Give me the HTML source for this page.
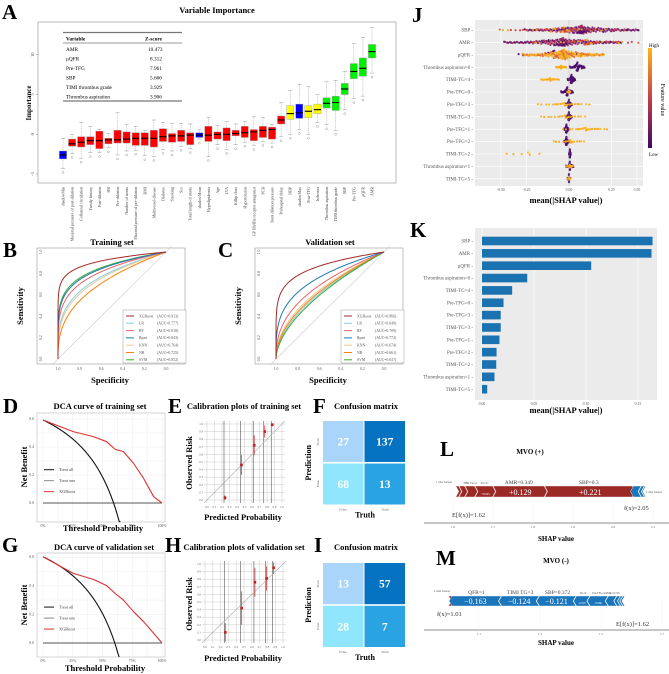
<!DOCTYPE html>
<html><head><meta charset="utf-8"><style>
html,body{margin:0;padding:0;background:#fff;}
svg{display:block;font-family:"Liberation Serif",serif;}
.lt{font-weight:bold;font-size:21px;}
.tt{font-weight:bold;font-size:8.5px;}
.tk{font-size:3.8px;fill:#555;}
</style></head><body>
<svg id="fig" xmlns="http://www.w3.org/2000/svg" width="669" height="674" viewBox="0 0 669 674">
<rect width="669" height="674" fill="#fff"/>
<!-- Panel letters -->
<text x="2" y="19" class="lt">A</text>
<text x="3" y="257" class="lt">B</text>
<text x="218" y="257" class="lt">C</text>
<text x="3" y="413" class="lt">D</text>
<text x="168" y="413" class="lt">E</text>
<text x="313" y="413" class="lt">F</text>
<text x="2" y="552" class="lt">G</text>
<text x="165" y="552" class="lt">H</text>
<text x="314" y="552" class="lt">I</text>
<text x="412" y="22" class="lt">J</text>
<text x="410" y="237" class="lt">K</text>
<text x="440" y="456" class="lt">L</text>
<text x="436" y="565" class="lt">M</text>

<!-- Panel A static -->
<text x="217" y="13" text-anchor="middle" class="tt">Variable Importance</text>
<rect x="38" y="22" width="358" height="161" fill="none" stroke="#aaa" stroke-width="0.8"/>
<text x="0" y="0" transform="translate(31,103) rotate(-90)" text-anchor="middle" font-weight="bold" font-size="7">Importance</text>
<g id="aTable" font-size="5.3">
<line x1="63" y1="32.5" x2="182" y2="32.5" stroke="#777" stroke-width="1.2"/>
<line x1="63" y1="43" x2="182" y2="43" stroke="#333" stroke-width="0.6"/>
<line x1="63" y1="101" x2="182" y2="101" stroke="#777" stroke-width="1.2"/>
<text x="66" y="40.5" font-weight="bold">Variable</text><text x="145" y="40.5" font-weight="bold">Z-score</text>
<text x="66" y="51">AMR</text><text x="148" y="51">10.473</text>
<text x="66" y="60.5">μQFR</text><text x="150" y="60.5">8.312</text>
<text x="66" y="70">Pre-TFG</text><text x="150" y="70">7.961</text>
<text x="66" y="79.5">SBP</text><text x="150" y="79.5">5.666</text>
<text x="66" y="89">TIMI thrombus grade</text><text x="150" y="89">3.929</text>
<text x="66" y="98.5">Thrombus aspiration</text><text x="150" y="98.5">3.906</text>
</g>

<!-- B/C static -->
<text x="112" y="245" text-anchor="middle" class="tt">Training set</text>
<text x="330" y="245" text-anchor="middle" class="tt">Validation set</text>
<rect x="37" y="248" width="148" height="116" fill="none" stroke="#999" stroke-width="0.6"/>
<rect x="255" y="248" width="148" height="116" fill="none" stroke="#999" stroke-width="0.6"/>
<text x="110" y="383" text-anchor="middle" class="tt">Specificity</text>
<text x="328" y="383" text-anchor="middle" class="tt">Specificity</text>
<text transform="translate(23,306) rotate(-90)" text-anchor="middle" class="tt">Sensitivity</text>
<text transform="translate(241,306) rotate(-90)" text-anchor="middle" class="tt">Sensitivity</text>

<!-- D/G static -->
<text x="100" y="409" text-anchor="middle" class="tt">DCA curve of training set</text>
<text x="104" y="550" text-anchor="middle" class="tt">DCA curve of validation set</text>
<text x="103" y="531" text-anchor="middle" class="tt">Threshold Probability</text>
<text x="105" y="671" text-anchor="middle" class="tt">Threshold Probability</text>
<text transform="translate(27,467) rotate(-90)" text-anchor="middle" class="tt">Net Benefit</text>
<text transform="translate(27,605) rotate(-90)" text-anchor="middle" class="tt">Net Benefit</text>

<!-- E/H static -->
<text x="244" y="409" text-anchor="middle" class="tt">Calibration plots of training set</text>
<text x="244" y="550" text-anchor="middle" class="tt">Calibration plots of validation set</text>
<text x="243" y="520" text-anchor="middle" class="tt">Predicted Probability</text>
<text x="243" y="661" text-anchor="middle" class="tt">Predicted Probability</text>
<text transform="translate(192,463) rotate(-90)" text-anchor="middle" class="tt">Observed Risk</text>
<text transform="translate(192,604) rotate(-90)" text-anchor="middle" class="tt">Observed Risk</text>

<!-- F/I static -->
<text x="366" y="409" text-anchor="middle" class="tt">Confusion matrix</text>
<text x="366" y="550" text-anchor="middle" class="tt">Confusion matrix</text>

<!-- J static -->
<rect x="475" y="20" width="168" height="166" fill="#ebebeb"/>
<text x="566" y="203" text-anchor="middle" class="tt">mean(|SHAP value|)</text>
<defs><linearGradient id="cb" x1="0" y1="0" x2="0" y2="1"><stop offset="0" stop-color="#fcb519"/><stop offset="0.5" stop-color="#c73e4c"/><stop offset="1" stop-color="#3d0965"/></linearGradient></defs>
<rect x="648" y="48" width="4" height="100" fill="url(#cb)"/>
<text x="649" y="47" font-size="5">High</text>
<text x="649" y="156" font-size="5">Low</text>
<text transform="translate(661,100) rotate(90)" text-anchor="middle" font-size="6">Feature value</text>

<!-- K static -->
<rect x="475" y="228" width="182" height="172" fill="#ebebeb"/>
<text x="566" y="413" text-anchor="middle" class="tt">mean(|SHAP value|)</text>

<!-- L/M static -->
<text x="530" y="454" text-anchor="middle" font-weight="bold" font-size="7">MVO (+)</text>
<text x="556" y="563" text-anchor="middle" font-weight="bold" font-size="7">MVO (-)</text>
<text x="556" y="541" text-anchor="middle" font-weight="bold" font-size="7">SHAP value</text>
<text x="556" y="645" text-anchor="middle" font-weight="bold" font-size="7">SHAP value</text>
</svg>
<script>
const NS="http://www.w3.org/2000/svg";
const svg=document.getElementById('fig');
function mk(tag,attrs,txt){const e=document.createElementNS(NS,tag);for(const k in attrs)e.setAttribute(k,attrs[k]);if(txt!==undefined)e.textContent=txt;svg.appendChild(e);return e;}

/* ===== Panel A data ===== */
const aNames=["shadowMin","Maximal pressure of post-dilation","Collateral circulation","Family history","Post-dilation","HR","Pre-dilation","Number of stents","Maximal pressure of pre-dilation","BMI","Multivessel disease","Diabetes","Smoking","Sex","Total length of stents","shadowMean","Hyperlipidemia","Age","LVA","Killip class","Hypertension","GP IIb/IIIa receptor antagonist","PCB","Stent dilation pressure","Prehospital delay","DBP","shadowMax","Post-TFG","Ischemia","Thrombus aspiration","TIMI thrombus grade","SBP","Pre-TFG","μQFR","AMR"];
const aMed=[-2.6,-1.2,-1.0,-0.8,-0.8,-0.7,-0.7,-0.6,-0.5,-0.5,-0.5,-0.3,-0.2,-0.2,-0.1,-0.1,-0.1,0,0,0.1,0.2,0.3,0.5,0.6,1.8,2.6,2.7,2.9,3.1,3.9,4.0,5.7,7.9,8.3,10.4];
const aQ1=[-3.1,-1.5,-1.6,-1.3,-1.8,-1.2,-1.1,-1.1,-1.4,-1.4,-1.6,-0.9,-1.0,-0.9,-1.3,-0.4,-0.9,-0.6,-0.8,-0.2,-0.4,-0.8,-0.4,-0.6,1.3,1.9,2.0,2.1,2.6,3.3,3.0,5.0,7.0,7.3,9.6];
const aQ3=[-2.1,-0.6,-0.3,-0.3,0.4,-0.5,0.5,0.3,0.2,0.2,0.5,0.7,0.1,0.5,0.2,0.2,1.0,0.3,0.8,0.5,1.0,0.6,1.0,0.9,2.3,3.6,3.8,3.6,3.8,4.6,4.8,6.4,8.9,9.6,11.3];
const aLo=[-4.3,-2.4,-3.0,-2.3,-2.3,-1.7,-2.6,-2.1,-2.0,-2.7,-2.8,-1.9,-2.1,-1.5,-1.8,-0.6,-2.8,-1.3,-1.9,-1.3,-1.0,-1.4,-0.9,-1.1,-0.3,0.0,0.6,0.0,1.5,1.2,0.5,3.1,4.5,4.8,7.7];
const aHi=[-0.5,0.0,1.5,1.0,0.6,0.1,2.7,1.2,1.0,0.5,1.8,1.5,1.4,1.4,1.3,0.6,2.1,1.1,1.6,1.3,1.6,2.2,2.1,1.2,4.0,5.5,6.3,6.0,5.0,6.6,6.8,7.9,11.4,12.2,13.4];
const aGroup=["shadow","r","r","r","r","r","r","r","r","r","r","r","r","r","r","shadow","r","r","r","r","r","r","r","r","r","t","shadow","t","t","c","c","c","c","c","c"];
const aTicks=[-5,0,5,10];
const aGroupColor={shadow:"#0000ff",r:"#ff0000",t:"#ffff00",c:"#00ee00"};
const aX=i=>63+i*(372-63)/(aNames.length-1);
const aY=v=>134.3-7.95*v;
aTicks.forEach(t=>{
  const tl=mk('line',{x1:36,x2:38,y1:aY(t),y2:aY(t),stroke:'#888','stroke-width':0.5});
  
  
  const tx=mk('text',{transform:`translate(34,${aY(t)}) rotate(-90)`,'text-anchor':'middle','font-size':4.5,fill:'#555'},String(t));
  
  
});
aNames.forEach((n,i)=>{
  const x=aX(i),w=7.2;
  const wh=mk('line',{x1:x,x2:x,y1:aY(aHi[i]),y2:aY(aLo[i]),stroke:'#999','stroke-width':0.5,'stroke-dasharray':'1,0.8'});
  
  
  [aHi[i],aLo[i]].forEach(v=>{const c=mk('line',{x1:x-2,x2:x+2,y1:aY(v),y2:aY(v),stroke:'#999','stroke-width':0.5});
    
    });
  const b=mk('rect',{x:x-w/2,y:aY(aQ3[i]),width:w,height:aY(aQ1[i])-aY(aQ3[i]),fill:aGroupColor[aGroup[i]],stroke:'#999','stroke-width':0.4});
  
  
  const m=mk('line',{x1:x-w/2,x2:x+w/2,y1:aY(aMed[i]),y2:aY(aMed[i]),stroke:'#000','stroke-width':1.1});
  
  
  const o=mk('circle',{cx:x,cy:aY(aLo[i])+4,r:1,fill:'none',stroke:'#888','stroke-width':0.4});
  
  
  const t=mk('text',{transform:`translate(${x+1.5},187) rotate(-90)`,'text-anchor':'end','font-size':4,fill:'#444'},n);
  
  
});

/* ===== ROC data ===== */
const rocModels=["XGBoost","LR","RF","Rpart","KNN","NB","SVM"];
const rocColors=["#a52a2a","#87ceeb","#e8646a","#1f78b4","#e8c98a","#ff7f0e","#3aa83a"];
const rocAucTrain=[0.913,0.777,0.818,0.843,0.764,0.725,0.852];
const rocAucValid=[0.866,0.649,0.709,0.772,0.674,0.661,0.637];
const rocTicks=[0,0.2,0.4,0.6,0.8,1.0];
function drawRoc(x0,aucs,tag){
  const sx=spec=>x0+(1-spec)*108, sy=s=>359-s*107;
  const d=mk('line',{x1:sx(1.05),y1:sy(-0.05),x2:sx(-0.05),y2:sy(1.05),stroke:'#ccc','stroke-width':0.6});
  
  
  rocTicks.forEach(t=>{
    const a=mk('text',{x:sx(t),y:370,'text-anchor':'middle',class:'tk'},t.toFixed(1));
    
    
    const b=mk('text',{transform:`translate(${x0-16},${sy(t)}) rotate(-90)`,'text-anchor':'middle',class:'tk'},t.toFixed(1));
    
    
  });
  const order=[1,4,5,6,2,3,0];
  order.forEach(i=>{
    const k=(1-aucs[i])/aucs[i];let p='';
    for(let j=0;j<=100;j++){const f=Math.pow(j/100,2);p+=(j?'L':'M')+sx(1-f).toFixed(2)+','+sy(Math.pow(f,k)).toFixed(2);}
    const c=mk('path',{d:p,fill:'none',stroke:rocColors[i],'stroke-width':1});
    
    
  });
  const lx=x0+65;
  const lb=mk('rect',{x:lx,y:310,width:63,height:53,fill:'#fff',stroke:'#999','stroke-width':0.5});
  
  
  rocModels.forEach((m,i)=>{
    const y=316+i*7.3;
    const l=mk('line',{x1:lx+3,x2:lx+11,y1:y,y2:y,stroke:rocColors[i],'stroke-width':1});
    
    
    const t=mk('text',{x:lx+16,y:y+1.3,'font-size':3.8,fill:'#555'},m);
    
    
    const t2=mk('text',{x:lx+34,y:y+1.3,'font-size':3.8,fill:'#555'},'(AUC='+aucs[i].toFixed(3)+')');
    
    
  });
}
drawRoc(58,rocAucTrain,'b');
drawRoc(276,rocAucValid,'c');

/* ===== DCA data ===== */
const dcaThr=[0,0.254,0.423,0.535,0.606,0.676,0.761,0.845,0.93,1.0];
const dcaTrainNB=[0.593,0.51,0.474,0.438,0.383,0.367,0.283,0.176,0.045,0.0];
const dcaValidNB=[0.603,0.487,0.445,0.401,0.347,0.3,0.219,0.149,0.068,0.0];
const dcaPrevTrain=0.593, dcaPrevValid=0.603;
const dcaXTicks=["0%","25%","50%","75%","100%"];
function drawDca(top,bot,y0,ppu,nb,prev,tag){
  const sx=t=>43+t*119, sy=v=>y0-v*ppu;
  for(let t=0;t<=1.0001;t+=0.125){const g=mk('line',{x1:sx(t),x2:sx(t),y1:top,y2:bot,stroke:'#eee','stroke-width':0.5});
    
    }
  for(let v=0;v<=0.6001;v+=0.1){const g=mk('line',{x1:37,x2:165,y1:sy(v),y2:sy(v),stroke:'#eee','stroke-width':0.5});
    
    }
  const fr=mk('rect',{x:37,y:top,width:128,height:bot-top,fill:'none',stroke:'#bbb','stroke-width':0.6});
  
  
  dcaXTicks.forEach((l,i)=>{const t=mk('text',{x:sx(i/4),y:bot+5,'text-anchor':'middle',class:'tk'},l);
    
    });
  [0,0.2,0.4,0.6].forEach(v=>{const t=mk('text',{x:34,y:sy(v)+1,'text-anchor':'end',class:'tk'},v.toFixed(1));
    
    });
  const n=mk('line',{x1:sx(0),x2:sx(1),y1:sy(0),y2:sy(0),stroke:'#555','stroke-width':0.9});
  
  
  let p='';
  for(let t=0;t<=0.99;t+=0.01){const v=prev-(1-prev)*t/(1-t);if(sy(v)>bot){p+='L'+sx(t)+','+bot;break;}p+=(p?'L':'M')+sx(t).toFixed(2)+','+sy(v).toFixed(2);}
  const a=mk('path',{d:p,fill:'none',stroke:'#111','stroke-width':1.1});
  
  
  let q='';dcaThr.forEach((t,i)=>{q+=(i?'L':'M')+sx(t)+','+sy(nb[i]);});
  const x=mk('path',{d:q,fill:'none',stroke:'#e03030','stroke-width':1.1,'stroke-linejoin':'round'});
  
  
  const ly=top+(bot-top)*0.52;
  [['Treat all','#111'],['Treat one','#888'],['XGBoost','#e03030']].forEach((e,i)=>{
    const l=mk('line',{x1:44,x2:54,y1:ly+i*11,y2:ly+i*11,stroke:e[1],'stroke-width':1});
    
    
    const t=mk('text',{x:59,y:ly+i*11+1.5,'font-size':4.3,fill:'#444'},e[0]);
    
    
  });
}
drawDca(413,522,503,140,dcaTrainNB,dcaPrevTrain,'d');
drawDca(553,657,643,143,dcaValidNB,dcaPrevValid,'g');

/* ===== Calibration data ===== */
const calTrainX=[0.24,0.46,0.63,0.77,0.87];
const calTrainY=[0.03,0.46,0.72,0.90,0.99];
const calTrainErr=[0.03,0.13,0.13,0.08,0.02];
const calValidX=[0.26,0.47,0.64,0.79,0.88];
const calValidY=[0.10,0.42,0.76,0.81,0.95];
const calValidErr=[0.12,0.22,0.19,0.16,0.08];
function drawCal(x0,x1,y0,y1,cx,cy,ce,tag){
  const sx=v=>x0+v*(x1-x0), sy=v=>y0-v*(y0-y1);
  for(let v=0;v<=1.0001;v+=0.1){
    const g1=mk('line',{x1:sx(v),x2:sx(v),y1:sy(1.04),y2:sy(-0.04),stroke:'#bbb','stroke-width':0.4});
    
    
    const g2=mk('line',{x1:sx(-0.04),x2:sx(1.04),y1:sy(v),y2:sy(v),stroke:'#bbb','stroke-width':0.4});
    
    
    const t=mk('text',{x:sx(v),y:sy(-0.04)+5,'text-anchor':'middle','font-size':3,fill:'#666'},v.toFixed(1));
    
    
    const t2=mk('text',{x:sx(-0.04)-1,y:sy(v)+1,'text-anchor':'end','font-size':3,fill:'#666'},v.toFixed(1));
    
    
  }
  cx.forEach(v=>{const g=mk('line',{x1:sx(v)-1,x2:sx(v)-1,y1:sy(1.04),y2:sy(-0.04),stroke:'#555','stroke-width':0.6});
    
    });
  const d=mk('line',{x1:sx(-0.04),y1:sy(-0.04),x2:sx(1.04),y2:sy(1.04),stroke:'#aaa','stroke-width':0.6});
  
  
  cx.forEach((v,i)=>{
    const e=mk('line',{x1:sx(v),x2:sx(v),y1:sy(Math.min(1.02,cy[i]+ce[i])),y2:sy(cy[i]-ce[i]),stroke:'#d04040','stroke-width':0.8});
    
    
    const p=mk('rect',{x:sx(v)-1.3,y:sy(cy[i])-1.3,width:2.6,height:2.6,fill:'#c02020'});
    
    
  });
}
drawCal(207,282,500,424,calTrainX,calTrainY,calTrainErr,'e');
drawCal(205,283,640,564,calValidX,calValidY,calValidErr,'h');

/* ===== Confusion matrices ===== */
const cmTrain=[27,137,68,13];
const cmValid=[13,57,28,7];
const cmColors=["#a9d5fb","#0572c2","#90e6fc","#29a3e1"];
function drawCm(top,bot,vals,tag){
  const xs=[323,364.5],ws=[40.5,40.5],mid=(top+bot)/2,hs=[mid-top-0.8,bot-mid-0.8],ys=[top,mid+0.8];
  vals.forEach((v,i)=>{
    const r=Math.floor(i/2),c=i%2;
    const cell=mk('rect',{x:xs[c],y:ys[r],width:ws[c],height:hs[r],fill:cmColors[i]});
    
    
    const t=mk('text',{x:xs[c]+ws[c]/2,y:ys[r]+hs[r]/2+4,'text-anchor':'middle','font-weight':'bold','font-size':11.5,fill:'#fff'},String(v));
    
    
  });
  [['Truth',top+(mid-top)/2],['False',mid+(bot-mid)/2]].forEach(e=>{
    const t=mk('text',{transform:`translate(319,${e[1]}) rotate(-90)`,'text-anchor':'middle','font-size':3.5,fill:'#666'},e[0]);
    
    });
  [['False',343],['Truth',385]].forEach(e=>{
    const t=mk('text',{x:e[1],y:bot+6,'text-anchor':'middle','font-size':3.5,fill:'#666'},e[0]);
    
    });
  const yl=mk('text',{transform:`translate(311,${mid}) rotate(-90)`,'text-anchor':'middle','font-weight':'bold','font-size':8},'Prediction');
  
  
  const xl=mk('text',{x:365,y:bot+13,'text-anchor':'middle','font-weight':'bold','font-size':8},'Truth');
  
  
}
drawCm(421,504.5,cmTrain,'f');
drawCm(563,647,cmValid,'i');

/* ===== J beeswarm data ===== */
const shapFeatures=["SBP","AMR","μQFR","Thrombus aspiration=0","TIMI-TG=4","Pre-TFG=0","Pre-TFG=3","TIMI-TG=3","Pre-TFG=1","Pre-TFG=2","TIMI-TG=2","Thrombus aspiration=1","TIMI-TG=5"];
const jHighMin=[-0.45,-0.25,-0.3,-0.08,-0.17,-0.01,-0.2,-0.18,-0.05,-0.1,-0.38,-0.02,-0.01];
const jHighMax=[0.4,0.47,0.24,-0.01,-0.05,0.01,0.15,0.14,0.25,0.12,-0.1,0.03,0.01];
const jHighN=[50,40,140,35,25,18,25,20,25,18,6,18,10];
const jLowMin=[-0.3,-0.42,-0.32,0.0,-0.01,-0.05,-0.02,-0.02,-0.03,-0.03,0.0,-0.02,-0.01];
const jLowMax=[0.45,0.35,0.15,0.1,0.04,0.03,0.02,0.02,0.0,0.0,0.01,0.03,0.01];
const jLowN=[160,170,30,45,55,45,50,50,50,50,50,35,20];
const jXTickVals=[-0.4,-0.25,0,0.25,0.4];
const jXTickLabels=["-0.50","-0.25","0.00","0.25","0.50"];
const jx=v=>569+v*170;
const jRowY=i=>30+i*12.4;
jXTickVals.forEach((v,i)=>{
  const g=mk('line',{x1:jx(v),x2:jx(v),y1:20,y2:186,stroke:'#fff','stroke-width':0.6});
  
  
  const t=mk('text',{x:jx(v),y:191,'text-anchor':'middle',class:'tk'},jXTickLabels[i]);
  
  
});
function swarm(i,lo,hi,n,cols,amp){
  const y0=jRowY(i),c=(lo+hi)/2,h=(hi-lo)/2;
  for(let k=0;k<n;k++){
    const u=((k*0.618034)%1)*2-1;
    const v=c+h*u*Math.abs(u)*0.9+h*u*0.1*(1-Math.abs(u));
    const dens=1-Math.abs(u);
    const off=(((k*0.7548)%1)*2-1)*amp*Math.max(0.15,dens);
    const d=mk('circle',{cx:jx(v).toFixed(2),cy:(y0+off).toFixed(2),r:1.1,fill:cols[k%cols.length],'fill-opacity':0.9});
    
    
  }
}
shapFeatures.forEach((f,i)=>{
  const y=jRowY(i);
  const g=mk('line',{x1:475,x2:643,y1:y,y2:y,stroke:'#fff','stroke-width':0.6});
  
  
  const t=mk('text',{x:473,y:y+1.6,'text-anchor':'end','font-size':5,fill:'#555'},f+' -');
  
  
  const cont=i<3;
  const ampLow=cont?4.5:5.2, ampHigh=cont?(i==2?5.5:3):1.6;
  swarm(i,jLowMin[i],jLowMax[i],jLowN[i],cont?['#4b0c6b','#7a1c6d','#b0325a','#5a1070']:['#4b0c6b'],ampLow);
  swarm(i,jHighMin[i],jHighMax[i],jHighN[i],cont?(i==2?['#f8a31b','#fcb519','#e76f2a']:['#e35a36','#f8a31b','#c73e4c']):['#fcb519','#f8a31b'],ampHigh);
});
const z=mk('line',{x1:jx(0),x2:jx(0),y1:20,y2:186,stroke:'#999','stroke-width':0.4});



/* ===== K bar data ===== */
const kValues=[0.164,0.163,0.105,0.0435,0.029,0.0207,0.018,0.018,0.0168,0.014,0.0137,0.012,0.005];
const kTicks=[0,0.05,0.1,0.15];
const kTickLabels=["0.00","0.05","0.10","0.15"];
const kx=v=>482+v*1040;
const kRowY=i=>241+i*12.35;
kTicks.forEach((v,i)=>{
  const g=mk('line',{x1:kx(v),x2:kx(v),y1:228,y2:400,stroke:'#fff','stroke-width':0.6});
  
  
  const t=mk('text',{x:kx(v),y:405,'text-anchor':'middle',class:'tk'},kTickLabels[i]);
  
  
});
shapFeatures.forEach((f,i)=>{
  const y=kRowY(i);
  const b=mk('rect',{x:kx(0),y:y-4.3,width:kx(kValues[i])-kx(0),height:8.6,fill:'#1a72b0'});
  
  
  const t=mk('text',{x:473,y:y+1.6,'text-anchor':'end','font-size':5,fill:'#555'},f+' -');
  
  
});

/* ===== L/M force plots data ===== */
const lPos=[0.221,0.129,0.045,0.025,0.015,0.008];
const lPosLabels=["SBP=0.3","AMR=0.349","TG=0","TIMI TG=4","",""];
const lNeg=[0.02,0.008,0.004];
const lFx=2.05, lBase=1.62;
const lTicks=[1.6,1.7,1.8,1.9,2.0,2.1];
const mNeg=[0.163,0.124,0.121,0.045,0.06,0.028,0.012,0.008,0.007];
const mNegLabels=["QFR=1","TIMI TG=3","SBP=0.372","TG=0","Pre-TFG=2","AMR=0.135","","",""];
const mPos=[0.01];
const mFx=1.01, mBase=1.62;
const mTicks=[1.1,1.3,1.5,1.7];
const RED="#9b2a26",BLUE="#1a75bb";
function chevR(x0,x1,yt,yb,col,name){const ym=(yt+yb)/2,a=3;
  const p=mk('polygon',{points:`${x0},${yt} ${x1},${yt} ${x1+a},${ym} ${x1},${yb} ${x0},${yb} ${x0+a},${ym}`,fill:col,stroke:'#fff','stroke-width':0.4});
  
  }
function chevL(x0,x1,yt,yb,col,name){const ym=(yt+yb)/2,a=3;
  const p=mk('polygon',{points:`${x0},${yt} ${x1},${yt} ${x1-a},${ym} ${x1},${yb} ${x0},${yb} ${x0-a},${ym}`,fill:col,stroke:'#fff','stroke-width':0.4});
  
  }
function axisF(sx,ticks,y,fmt,tag){
  const l=mk('line',{x1:424,x2:669,y1:y,y2:y,stroke:'#666','stroke-width':0.8});
  
  
  ticks.forEach(v=>{const t=mk('text',{x:sx(v),y:y+5,'text-anchor':'middle','font-size':3.3,fill:'#666'},v.toFixed(1));
    
    
    const g=mk('line',{x1:sx(v),x2:sx(v),y1:y-30,y2:y,stroke:'#eee','stroke-width':0.4});
    
    });
}
// L
(function(){
  const sx=v=>453+(v-1.6)*400, yt=486,yb=497;
  axisF(sx,lTicks,523,1,'l');
  let cur=lFx;
  lPos.forEach((v,i)=>{const x1=sx(cur),x0=sx(cur-v);chevR(x0,x1-0.5,yt,yb,RED,'l-positive-segment');
    const w=x1-x0;
    if(w>15){const t=mk('text',{x:(x0+x1)/2+1.5,y:yb-2.2,'text-anchor':'middle','font-size':w>40?8:3,fill:'#fff'},'+'+v.toFixed(3));
      
      }
    if(lPosLabels[i]){const t=mk('text',{x:(x0+x1)/2,y:yt-2,'text-anchor':'middle','font-size':w>40?5.5:2.8,fill:'#444'},lPosLabels[i]);
      
      }
    cur-=v;});
  cur=lFx;
  lNeg.forEach(v=>{chevL(sx(cur)+0.5,sx(cur+v),yt,yb,BLUE,'l-negative-segment');cur+=v;});
  const a=mk('text',{x:452,y:517,'font-size':6.5,fill:'#333'},'E[f(x)]=1.62');
  
  
  const b=mk('text',{x:624,y:510,'font-size':6.5,fill:'#333'},'f(x)=2.05');
  
  
  const c=mk('text',{x:436,y:483,'font-size':2.6,fill:'#555'},'1 other features');
  
  
  const e=mk('text',{x:646,y:493,'font-size':2.6,fill:'#555'},'4 other features');
  
  
})();
// M
(function(){
  const sx=v=>479+(v-1.1)*305, yt=596,yb=606;
  axisF(sx,mTicks,630,1,'m');
  let cur=mFx;
  mPos.forEach(v=>{chevR(sx(cur-v),sx(cur),yt,yb,RED,'m-positive-segment');});
  mNeg.forEach((v,i)=>{const x0=sx(cur),x1=sx(cur+v);chevL(x0+0.5,x1,yt,yb,BLUE,'m-negative-segment');
    const w=x1-x0;
    if(w>10){const t=mk('text',{x:(x0+x1)/2-1,y:yb-2,'text-anchor':'middle','font-size':w>30?8:2.8,fill:'#fff'},'\u2212'+v.toFixed(3));
      
      }
    if(mNegLabels[i]){const t=mk('text',{x:(x0+x1)/2,y:yt-2,'text-anchor':'middle','font-size':w>30?5.5:2.8,fill:'#444'},mNegLabels[i]);
      
      }
    cur+=v;});
  const a=mk('text',{x:437,y:616,'font-size':6.5,fill:'#333'},'f(x)=1.01');
  
  
  const b=mk('text',{x:616,y:626,'font-size':6.5,fill:'#333'},'E[f(x)]=1.62');
  
  
  const c=mk('text',{x:434,y:592,'font-size':2.6,fill:'#555'},'4 other features');
  
  
})();
</script>
</body></html>
